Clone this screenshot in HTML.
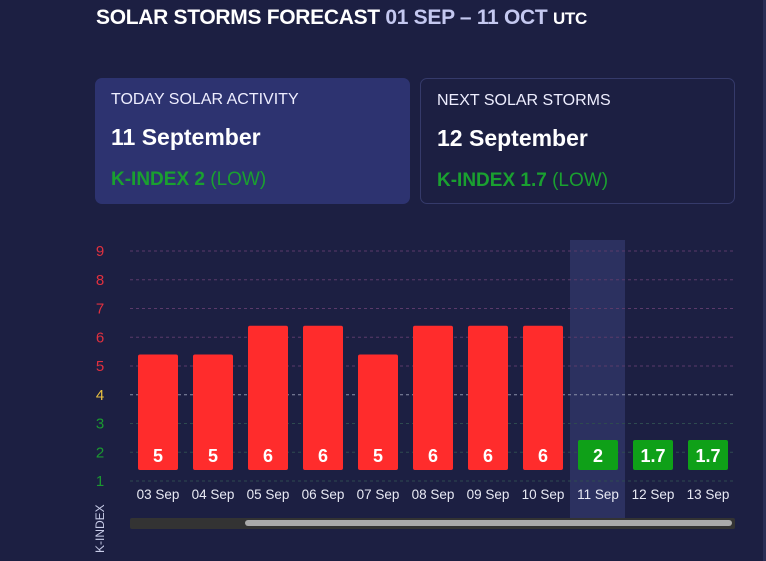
<!DOCTYPE html>
<html><head><meta charset="utf-8"><style>
body{margin:0;width:766px;height:561px;background:#1c1f42;font-family:"Liberation Sans",sans-serif;overflow:hidden;position:relative;color:#fff}
.title{position:absolute;left:96px;top:6px;font-size:21px;font-weight:bold;letter-spacing:-0.3px;white-space:nowrap}
.card{position:absolute;top:78px;height:126px;border-radius:7px;box-sizing:border-box}
.c1{left:95px;width:315px;background:#2d3370}
.c2{left:420px;width:315px;border:1px solid #353a6a}
.lab{position:absolute;left:16px;top:13px;font-size:16px;color:#eef}
.date{position:absolute;left:16px;top:46px;font-size:23px;font-weight:bold}
.k{position:absolute;left:16px;top:91px;font-size:19px;color:#1aa030}
.k b{font-weight:bold}
.edge{position:absolute;right:0;top:0;width:3px;height:561px;background:#2a2e55}
</style></head><body>
<div class="title">SOLAR STORMS FORECAST <span style="color:#c4c8f0">01 SEP – 11 OCT</span> <span style="font-size:17px">UTC</span></div>
<div class="card c1"><div class="lab">TODAY SOLAR ACTIVITY</div><div class="date">11 September</div><div class="k"><b>K-INDEX 2</b> (LOW)</div></div>
<div class="card c2"><div class="lab">NEXT SOLAR STORMS</div><div class="date">12 September</div><div class="k"><b>K-INDEX 1.7</b> (LOW)</div></div>
<div class="edge"></div>
<svg id="chart" width="766" height="561" style="position:absolute;left:0;top:0"></svg>
<script>
const categories=["03 Sep","04 Sep","05 Sep","06 Sep","07 Sep","08 Sep","09 Sep","10 Sep","11 Sep","12 Sep","13 Sep"];
const values=[5,5,6,6,5,6,6,6,2,1.7,1.7];
const yTicks=[1,2,3,4,5,6,7,8,9];
const highlightIndex=8;
const NS="http://www.w3.org/2000/svg";
const svg=document.getElementById('chart');
const y=v=>481-(v-1)*28.75;
const xc=i=>158+i*55;
const baseY=470;
function mk(t,a){const e=document.createElementNS(NS,t);for(const k in a)e.setAttribute(k,a[k]);svg.appendChild(e);return e;}
function tickColor(v){return v>=5?"#e0303f":v==4?"#e8c040":"#1a9a30";}
function gridColor(v){return v>=5?"#5a3a6a":v==4?"#8a8fa8":"#2e4a50";}
const hl=mk('rect',{x:xc(highlightIndex)-28,y:240,width:55,height:280,fill:"#2c3160"});


yTicks.forEach(v=>{
 const g=mk('line',{x1:130,x2:735,y1:y(v),y2:y(v),stroke:gridColor(v),'stroke-dasharray':'3,3','stroke-width':1});
 
 
 const t=mk('text',{x:100,y:y(v)+5,'text-anchor':'middle','font-size':15,fill:tickColor(v)});
 t.textContent=v;
 
 
});
values.forEach((v,i)=>{
 let top=Math.min(y(v+0.4),baseY-30);
 const col=v>=5?"#ff2c2c":"#0fa018";
 const b=mk('rect',{x:xc(i)-20,y:top,width:40,height:baseY-top,rx:2,fill:col});
 
 
 const t=mk('text',{x:xc(i),y:462,'text-anchor':'middle','font-size':18,'font-weight':'bold',fill:'#fff'});
 t.textContent=v;
 
 
 const l=mk('text',{x:xc(i),y:499,'text-anchor':'middle','font-size':13.5,fill:'#e8eaf4'});
 l.textContent=categories[i];
 
 
});
const tr=mk('rect',{x:130,y:518,width:605,height:11,rx:2,fill:"#333"});


const th=mk('rect',{x:245,y:520,width:487,height:6,rx:3,fill:"#aaa"});


const yt=mk('text',{x:0,y:0,transform:'translate(104,553) rotate(-90)','font-size':12,fill:'#c8cce8'});
yt.textContent="K-INDEX";


</script>
</body></html>
